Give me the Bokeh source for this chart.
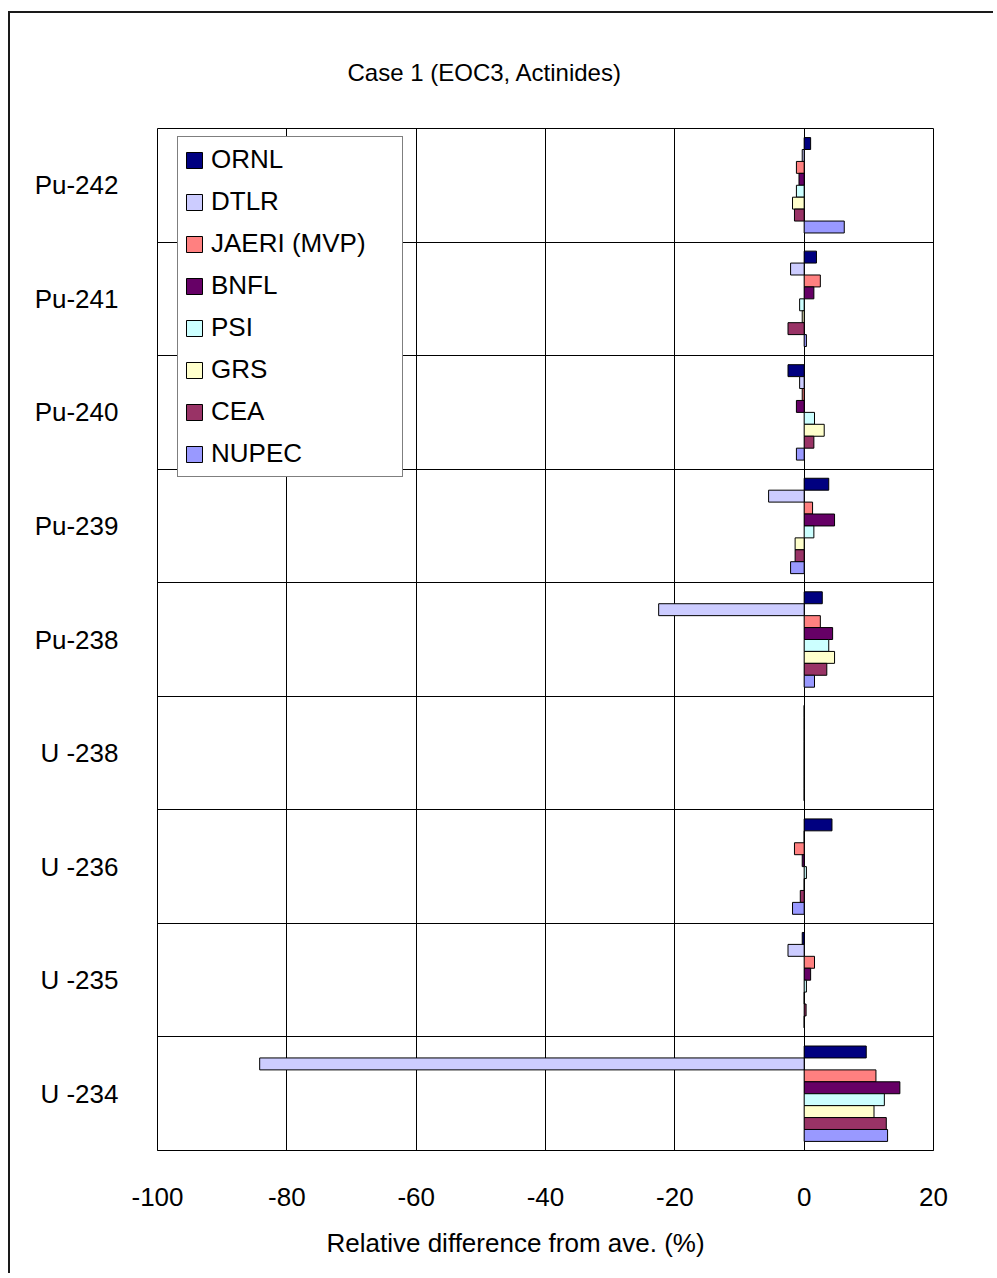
from bokeh.plotting import figure
from bokeh.models import FixedTicker, Legend, LegendItem, Title
from bokeh.embed import file_html
from bokeh.resources import INLINE

FONT = "Liberation Sans"

nuclides = ["Pu-242", "Pu-241", "Pu-240", "Pu-239", "Pu-238",
            "U -238", "U -236", "U -235", "U -234"]
series = ["ORNL", "DTLR", "JAERI (MVP)", "BNFL", "PSI", "GRS", "CEA", "NUPEC"]
colors = ["#000080", "#CCCCFF", "#FF8080", "#660066",
          "#CCFFFF", "#FFFFCC", "#993366", "#9999FF"]

ornl  = [1.0, 1.9, -2.5, 3.8, 2.8, 0.0, 4.3, -0.3, 9.6]
dtlr  = [-0.3, -2.1, -0.7, -5.5, -22.5, 0.0, 0.0, -2.5, -84.2]
jaeri = [-1.2, 2.5, -0.3, 1.3, 2.5, 0.0, -1.5, 1.6, 11.1]
bnfl  = [-0.8, 1.5, -1.2, 4.7, 4.4, 0.0, -0.3, 1.0, 14.8]
psi   = [-1.2, -0.7, 1.6, 1.5, 3.8, 0.0, 0.35, 0.35, 12.4]
grs   = [-1.8, -0.3, 3.1, -1.4, 4.7, 0.0, 0.0, 0.0, 10.8]
cea   = [-1.5, -2.5, 1.5, -1.4, 3.5, 0.0, -0.6, 0.3, 12.7]
nupec = [6.2, 0.35, -1.2, -2.1, 1.6, 0.0, -1.8, 0.0, 12.9]
values = [ornl, dtlr, jaeri, bnfl, psi, grs, cea, nupec]

x_ticks = [-100, -80, -60, -40, -20, 0, 20]

n = len(nuclides)
bar_h = 0.105

p = figure(width=985, height=1262, x_range=(-100, 20), y_range=(0, n),
           output_backend="svg", toolbar_location=None,
           min_border_left=147, min_border_right=62,
           min_border_top=114, min_border_bottom=124,
           styles={"border-top": "2px solid #1a1a1a",
                   "border-left": "2px solid #1a1a1a",
                   "margin-left": "8px", "margin-top": "11px"})
p.background_fill_color = "white"
p.border_fill_color = "white"
p.outline_line_color = "black"
p.outline_line_width = 1

renderers = []
for j, (name, vals, col) in enumerate(zip(series, values, colors)):
    ys = [n - 1 - i + 0.5 + (3.5 - j) * bar_h for i in range(n)]
    r = p.hbar(y=ys, left=0, right=vals, height=bar_h,
               fill_color=col, line_color="black", line_width=1)
    renderers.append((name, r))

# x axis
p.xaxis.ticker = FixedTicker(ticks=x_ticks)
p.xaxis.major_label_overrides = {t: str(t) for t in x_ticks}
p.xaxis.major_tick_line_color = None
p.xaxis.major_tick_out = 0
p.xaxis.major_tick_in = 0
p.xaxis.minor_tick_line_color = None
p.xaxis.axis_line_color = "black"
p.xaxis.major_label_standoff = 37
p.xaxis.major_label_text_font = FONT
p.xaxis.major_label_text_font_size = "26px"
p.xaxis.major_label_text_color = "black"

# y axis
centers = [n - 1 - i + 0.5 for i in range(n)]
p.yaxis.ticker = FixedTicker(ticks=centers)
p.yaxis.major_label_overrides = {c: lab for c, lab in zip(centers, nuclides)}
p.yaxis.major_tick_line_color = None
p.yaxis.major_tick_out = 0
p.yaxis.major_tick_in = 0
p.yaxis.minor_tick_line_color = None
p.yaxis.axis_line_color = None
p.yaxis.major_label_standoff = 39
p.yaxis.major_label_text_font = FONT
p.yaxis.major_label_text_font_size = "26px"
p.yaxis.major_label_text_color = "black"

# grids
p.xgrid.ticker = FixedTicker(ticks=x_ticks)
p.xgrid.grid_line_color = "black"
p.xgrid.grid_line_width = 1
p.ygrid.ticker = FixedTicker(ticks=list(range(n + 1)))
p.ygrid.grid_line_color = "black"
p.ygrid.grid_line_width = 1

legend = Legend(items=[LegendItem(label=nm, renderers=[r]) for nm, r in renderers],
                location=(20, 673))
legend.border_line_color = "black"
legend.border_line_width = 1
legend.background_fill_color = "white"
legend.background_fill_alpha = 1
legend.label_text_font = FONT
legend.label_text_font_size = "26px"
legend.label_text_color = "black"
legend.glyph_width = 20
legend.glyph_height = 20
legend.label_standoff = 7
legend.label_width = 185
legend.label_height = 33
legend.spacing = 9
legend.padding = 6
legend.margin = 0
p.add_layout(legend)

top_title = Title(text="Case 1 (EOC3, Actinides)", align="left", offset=190,
                  standoff=86, text_font=FONT, text_font_size="24px",
                  text_font_style="normal", text_color="black")
p.add_layout(top_title, "above")

x_title = Title(text="Relative difference from ave. (%)", align="left", offset=169,
                standoff=35, text_font=FONT, text_font_size="26px",
                text_font_style="normal", text_color="black")
p.add_layout(x_title, "below")

open("out.html", "w").write(file_html(p, INLINE))
